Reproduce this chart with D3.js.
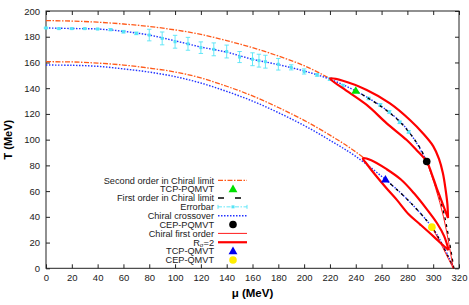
<!DOCTYPE html>
<html lang="en">
<head>
<meta charset="UTF-8">
<title>Phase diagram</title>
<script src="https://d3js.org/d3.v7.min.js"></script>
<style>
  body { margin: 0; background: #fff; }
  text { font-family: "Liberation Sans", Arial, Helvetica, sans-serif; }
  .tick text { font-size: 9.5px; fill: #222; }
  .tick line { stroke: #222; }
</style>
</head>
<body>
<script>

// ================== DATA ==================
var muTicks = [0,20,40,60,80,100,120,140,160,180,200,220,240,260,280,300,320];
var tTicks = [0,20,40,60,80,100,120,140,160,180,200];

// second order line in chiral limit (upper: PQMVT, lower: QMVT)
var secondUpper = [[0,192.5],[20,192.2],[40,191.3],[60,189.9],[80,188],[100,185.3],[120,181.8],[140,177],[160,171.5],[180,165],[200,157.5],[221,147]];
var secondLower = [[0,160.6],[20,160.4],[40,159.5],[60,158],[80,155.6],[100,152.6],[120,148],[140,141.5],[160,134],[180,125],[200,115],[220,103.5],[240,90.5],[246,86]];

// chiral crossover
var crossUpper = [[0,186.8],[20,186.4],[40,186],[60,184.2],[80,181.3],[100,176.8],[120,172],[140,168],[160,162.5],[180,158.3],[200,153.4],[220,147],[240,137.8],[260,125.8],[275,113.5],[282,105],[288,96],[295,83]];
var crossLower = [[0,158],[20,157.8],[40,157],[60,155],[80,152.5],[100,149],[120,144],[140,137.5],[160,130],[180,121],[200,111],[220,99.5],[240,87],[263,69],[280,53.5],[299,32],[308,17],[316,0]];

// errorbar points
var errMu = [0,10,20,30,40,50,60,70,80,90,100,110,120,130,140,150,160,165,170,180,190,200,210,220,230,250,259,266,274,281];
var errT  = [186.8,186.3,186.3,186.3,186,185.5,183.9,182.6,181.3,178.7,176.1,174.5,171.5,170.2,168.5,164.2,162.5,161.4,160.6,158.6,156.2,153,150.3,147,142,132,127,121.5,113.5,106];
var errE  = [0.5,0.5,0.5,0.5,0.5,0.8,1,1,4.5,5,5,5,4.5,5,5,4.3,5,5,5,4.5,2,2,1,1,1,1,1,1,1,1];

// first order in chiral limit
var firstUpper = [[240,138],[260,125.5],[275,113],[288,96.5],[295,83],[302,64],[308,44],[312,24],[316,0]];
var firstLower = [[263,69],[280,53.5],[299,32],[306,20],[311,10],[316,0]];

// chiral first order lines (from CEPs)
var chiralFirst1 = [[295,83],[302,62],[308,40],[312,20],[315.5,0]];
var chiralFirst2 = [[299,32],[306,19],[311,9],[315.5,0]];

// R_sigma = 2 contours
var rsUpperOuter = [[220,147.5],[230,145.8],[248.5,138.6],[266.5,128.2],[282,115.3],[292,105],[300,95],[304.5,85],[307.5,74],[309.5,62],[311,50],[311.5,39]];
var rsUpperInner = [[220,147.5],[230,140],[248.5,127],[264,112.7],[279.5,99.7],[287,92],[295,83],[299,73],[302.5,63],[305.5,55],[308.5,47],[311.5,39]];
var rsLowerUpper = [[245.5,85.5],[252,84],[264,77],[275,69],[285,58.5],[295,46],[303,35],[308.5,25],[312,14]];
var rsLowerLower = [[245.5,85.5],[249,80.5],[256,71.5],[264,62],[272,53],[281,42],[290,34],[300,25],[307,18.5],[312,14]];

// critical points
var tcpPQMVT = [240,138];
var cepPQMVT = [295,83];
var tcpQMVT = [263,69];
var cepQMVT = [299,32];

var legendLabels = ["Second order in Chiral limit","TCP-PQMVT","First order in Chiral limit","Errorbar","Chiral crossover","CEP-PQMVT","Chiral first order","R\u03c3=2","TCP-QMVT","CEP-QMVT"];

// ================== SVG ==================
var w = 469, h = 305;
var margin = {top: 11, right: 10, bottom: 36.7, left: 46};
var svg = d3.select("body").append("svg").attr("width", w).attr("height", h);

var x = d3.scaleLinear().domain([0,320]).range([margin.left, w - margin.right]);
var y = d3.scaleLinear().domain([0,200]).range([h - margin.bottom, margin.top]);

var colors = {
	orange: "#ff5a1a",
	blue: "#2233ff",
	cyan: "#55e4f6",
	red: "#ff0000",
	green: "#00e000",
	yellow: "#ffee00"
};

// ================== AXES ==================
svg.append("g").attr("transform", "translate(0," + y(0) + ")")
	.call(d3.axisBottom(x).tickValues(muTicks).tickSize(-4).tickSizeOuter(0).tickPadding(6))
	.call(function(g){ g.select(".domain").remove(); });
svg.append("g").attr("transform", "translate(" + x(0) + ",0)")
	.call(d3.axisLeft(y).tickValues(tTicks).tickSize(-4).tickSizeOuter(0).tickPadding(6))
	.call(function(g){ g.select(".domain").remove(); });
svg.append("g").attr("transform", "translate(0," + y(200) + ")")
	.call(d3.axisTop(x).tickValues(muTicks).tickSize(-4).tickSizeOuter(0).tickFormat(""))
	.call(function(g){ g.select(".domain").remove(); });
svg.append("g").attr("transform", "translate(" + x(320) + ",0)")
	.call(d3.axisRight(y).tickValues(tTicks).tickSize(-4).tickSizeOuter(0).tickFormat(""))
	.call(function(g){ g.select(".domain").remove(); });

svg.append("rect")
	.attr("x", x(0)).attr("y", y(200))
	.attr("width", x(320) - x(0)).attr("height", y(0) - y(200))
	.attr("fill", "none").attr("stroke", "#222").attr("stroke-width", 1);

svg.append("text")
	.attr("transform", "translate(12," + ((y(0) + y(200)) / 2) + ") rotate(-90)")
	.attr("text-anchor", "middle")
	.style("font-size", "11px").style("font-weight", "bold")
	.text("T (MeV)");
svg.append("text")
	.attr("x", (x(0) + x(320)) / 2).attr("y", 297)
	.attr("text-anchor", "middle")
	.style("font-size", "11.5px").style("font-weight", "bold")
	.text("\u03bc (MeV)");

// ================== CURVES ==================
var plot = svg.append("g");
var line = d3.line().x(function(d){ return x(d[0]); }).y(function(d){ return y(d[1]); }).curve(d3.curveMonotoneX);
var loopLine = d3.line().x(function(d){ return x(d[0]); }).y(function(d){ return y(d[1]); }).curve(d3.curveCatmullRom);

function drawLine(data, color, width, dash, gen){
	plot.append("path")
		.attr("d", (gen || line)(data))
		.attr("fill", "none")
		.attr("stroke", color)
		.attr("stroke-width", width)
		.attr("stroke-dasharray", dash || null);
}

drawLine(secondUpper, colors.orange, 1.3, "5,1.5,1.5,1.5");
drawLine(secondLower, colors.orange, 1.3, "5,1.5,1.5,1.5");
drawLine(crossUpper, colors.blue, 1.4, "1.5,1.5", loopLine);
drawLine(crossLower, colors.blue, 1.4, "1.5,1.5", loopLine);

// errorbars
var errData = errMu.map(function(m, i){ return {mu: m, t: errT[i], e: errE[i]}; });
var eb = plot.append("g").attr("stroke", colors.cyan).attr("stroke-width", 0.9);
eb.selectAll(".bar").data(errData).enter().append("path")
	.attr("d", function(d){
		var cx = x(d.mu), y1 = y(d.t - d.e), y2 = y(d.t + d.e);
		return "M" + cx + "," + y1 + "V" + y2 + "M" + (cx - 2.2) + "," + y1 + "h4.4M" + (cx - 2.2) + "," + y2 + "h4.4";
	});
plot.selectAll(".pt").data(errData).enter().append("rect")
	.attr("x", function(d){ return x(d.mu) - 1.5; })
	.attr("y", function(d){ return y(d.t) - 1.5; })
	.attr("width", 3).attr("height", 3)
	.attr("fill", colors.cyan);

drawLine(firstUpper, "#000", 1.3, "3,4", loopLine);
drawLine(firstLower, "#000", 1.3, "3,4", loopLine);
drawLine(chiralFirst1, colors.red, 0.9, null, loopLine);
drawLine(chiralFirst2, colors.red, 0.9, null, loopLine);

drawLine(rsUpperInner.slice().reverse().concat(rsUpperOuter.slice(1)), colors.red, 2.2, null, loopLine);
drawLine(rsLowerLower.slice().reverse().concat(rsLowerUpper.slice(1)), colors.red, 2.2, null, loopLine);

// markers
var tri = d3.symbol().type(d3.symbolTriangle).size(34);
function drawTri(p, color){
	plot.append("path").attr("d", tri()).attr("fill", color)
		.attr("transform", "translate(" + x(p[0]) + "," + (y(p[1]) + 0.5) + ")");
}
function drawDot(p, color){
	plot.append("circle").attr("cx", x(p[0])).attr("cy", y(p[1])).attr("r", 3.8).attr("fill", color);
}
drawTri(tcpPQMVT, colors.green);
drawDot(cepPQMVT, "#000");
drawTri(tcpQMVT, "#0000ee");
drawDot(cepQMVT, colors.yellow);

// ================== LEGEND ==================
var lg = svg.append("g");
var lx0 = 218, lx1 = 247, lxm = 233, ly0 = 180.3, lstep = 8.85;
legendLabels.forEach(function(label, i){
	var ly = ly0 + i * lstep;
	var t = lg.append("text").attr("x", 214).attr("y", ly + 3.3)
		.attr("text-anchor", "end").style("font-size", "9.2px").style("fill", "#222");
	if (i === 7) {
		t.append("tspan").text("R");
		t.append("tspan").attr("dy", 1.4).style("font-size", "6px").text("\u03c3");
		t.append("tspan").attr("dy", -1.4).text("=2");
	} else {
		t.text(label);
	}
	var seg = function(color, width, dash){
		lg.append("line").attr("x1", lx0).attr("x2", lx1).attr("y1", ly).attr("y2", ly)
			.attr("stroke", color).attr("stroke-width", width).attr("stroke-dasharray", dash || null);
	};
	if (i === 0) seg(colors.orange, 1.3, "5,1.5,1.5,1.5");
	if (i === 1) lg.append("path").attr("d", tri()).attr("fill", colors.green).attr("transform", "translate(" + lxm + "," + (ly + 0.5) + ")");
	if (i === 2) seg("#000", 1.3, "6,11");
	if (i === 3) {
		seg(colors.cyan, 0.9, "4,1.5,1.5,1.5");
		lg.append("path").attr("d", "M" + lx0 + "," + (ly - 2) + "v4M" + lx1 + "," + (ly - 2) + "v4")
			.attr("stroke", colors.cyan).attr("stroke-width", 0.9);
		lg.append("rect").attr("x", lxm - 1.5).attr("y", ly - 1.5).attr("width", 3).attr("height", 3).attr("fill", colors.cyan);
	}
	if (i === 4) seg(colors.blue, 1.4, "1.5,1.5");
	if (i === 5) lg.append("circle").attr("cx", lxm).attr("cy", ly).attr("r", 3.8).attr("fill", "#000");
	if (i === 6) seg(colors.red, 0.9);
	if (i === 7) seg(colors.red, 2.2);
	if (i === 8) lg.append("path").attr("d", tri()).attr("fill", "#0000ee").attr("transform", "translate(" + lxm + "," + (ly + 0.5) + ")");
	if (i === 9) lg.append("circle").attr("cx", lxm).attr("cy", ly).attr("r", 3.8).attr("fill", colors.yellow);
});

</script>
</body>
</html>
